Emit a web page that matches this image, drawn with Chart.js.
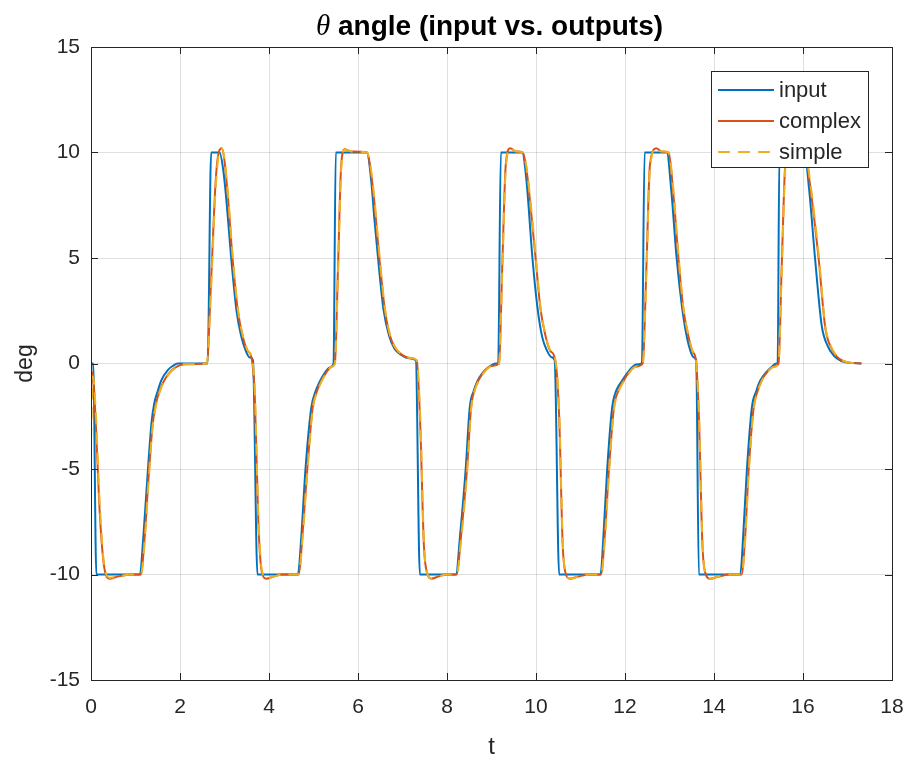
<!DOCTYPE html>
<html>
<head>
<meta charset="utf-8">
<script src="https://cdn.jsdelivr.net/npm/chart.js@4.4.1/dist/chart.umd.min.js"></script>
<style>
  html, body { margin: 0; padding: 0; background: #fff; }
  #wrap { width: 910px; height: 758px; }
</style>
</head>
<body>
<div id="wrap"><canvas id="thetaChart" width="910" height="758"></canvas></div>
<script>
// Zeitachse und Werte (deg)
const inputT = [0, 0.05, 0.12, 1.1, 1.17, 1.28, 1.36, 1.42, 1.5, 1.58, 1.73, 1.85, 1.95, 2.62, 2.7, 2.89, 2.97, 3.04, 3.15, 3.27, 3.38, 3.47, 3.56, 3.64, 3.74,
  4.65, 4.72, 4.82, 4.95, 5.05, 5.13, 5.25, 5.36, 5.45, 5.5, 6.2, 6.3, 6.37, 6.45, 6.57, 6.7, 6.82, 6.98, 7.15, 7.3, 7.39,
  8.2, 8.3, 8.42, 8.51, 8.6, 8.68, 8.8, 8.95, 9.1, 9.15, 9.21, 9.69, 9.78, 9.92, 10.03, 10.14, 10.25, 10.35, 10.42, 10.52,
  11.45, 11.52, 11.6, 11.71, 11.8, 11.94, 12.05, 12.15, 12.25, 12.38, 12.44, 12.94, 13.04, 13.16, 13.28, 13.39, 13.47, 13.54, 13.6, 13.66,
  14.59, 14.66, 14.74, 14.85, 14.95, 15.04, 15.18, 15.3, 15.4, 15.43, 15.47, 16.03, 16.14, 16.27, 16.42, 16.55, 16.7, 16.86, 17.05, 17.3];
const inputV = [0, 0, -10, -10, -8.4, -5, -2.8, -1.9, -1.3, -0.8, -0.3, -0.1, 0, 0, 10, 10, 9.2, 7.8, 5, 2.5, 1.25, 0.65, 0.3, 0.15, -10,
  -10, -8.4, -5, -2.1, -1.3, -0.9, -0.45, -0.2, 0, 10, 10, 8.6, 6.8, 5, 2.6, 1.3, 0.7, 0.4, 0.25, 0.15, -10,
  -10, -8, -5, -2.1, -1.3, -0.85, -0.45, -0.15, 0, 0, 10, 10, 8.8, 5, 2.7, 1.25, 0.6, 0.3, 0.15, -10,
  -10, -8, -5, -2.1, -1.3, -0.8, -0.45, -0.2, -0.05, 0, 10, 10, 8.2, 5, 2.7, 1.25, 0.6, 0.3, 0.15, -10,
  -10, -8, -5, -2.1, -1.3, -0.8, -0.4, -0.15, 0, 0, 10, 10, 8.2, 5, 1.8, 0.85, 0.35, 0.12, 0.03, 0];

const outT = [0, 0.04, 0.1, 0.2, 0.3, 0.42, 0.6, 0.9, 1.12, 1.2, 1.3, 1.38, 1.45, 1.55, 1.66, 1.8, 1.95, 2.1, 2.6, 2.7, 2.8, 2.87, 2.94, 3.0, 3.08, 3.18, 3.3, 3.42, 3.52, 3.61,
  3.68, 3.76, 3.84, 3.94, 4.1, 4.3, 4.67, 4.75, 4.86, 4.98, 5.08, 5.17, 5.28, 5.4, 5.48, 5.55, 5.62, 5.7, 5.85, 6.2, 6.27, 6.36, 6.48, 6.6, 6.72, 6.85, 7.0, 7.18, 7.32,
  7.4, 7.48, 7.55, 7.65, 7.8, 8.0, 8.22, 8.31, 8.45, 8.54, 8.62, 8.72, 8.85, 9.0, 9.17, 9.24, 9.32, 9.42, 9.55, 9.7, 9.78, 9.87, 9.99, 10.1, 10.22, 10.32, 10.43,
  10.52, 10.6, 10.66, 10.76, 10.95, 11.2, 11.46, 11.55, 11.64, 11.75, 11.85, 11.97, 12.1, 12.23, 12.4, 12.48, 12.56, 12.7, 12.82, 12.98, 13.08, 13.2, 13.31, 13.43, 13.52, 13.59,
  13.66, 13.74, 13.8, 13.92, 14.1, 14.35, 14.62, 14.7, 14.78, 14.89, 14.98, 15.07, 15.2, 15.34, 15.45, 15.52, 15.6, 15.68, 15.85, 16.05, 16.15, 16.35, 16.5, 16.62, 16.75, 16.9, 17.1, 17.32];
const complexV = [-1.2, -0.4, -2.5, -7.2, -9.7, -10.2, -10.1, -10, -10, -8.4, -5.2, -3, -2, -1.25, -0.75, -0.35, -0.12, -0.03, 0, 4, 8.6, 10, 10.2, 9.6, 7.8, 5, 2.5, 1.2, 0.6, 0.25,
  -1.5, -7.5, -9.9, -10.2, -10.1, -10, -10, -8.2, -5, -2.1, -1.3, -0.85, -0.45, -0.15, 0, 4.5, 9.3, 10.15, 10.05, 10, 9.4, 7.8, 5, 2.6, 1.3, 0.7, 0.4, 0.25, 0.15,
  -3, -8.6, -9.9, -10.2, -10.1, -10, -10, -8.3, -5, -2.1, -1.25, -0.75, -0.35, -0.12, 0, 4.5, 9.4, 10.2, 10.05, 10, 9.3, 7.6, 5, 2.6, 1.25, 0.6, 0.2,
  -2.5, -8.6, -9.9, -10.2, -10.1, -10, -10, -8, -5, -2.1, -1.3, -0.8, -0.4, -0.15, 0, 4.5, 9.4, 10.2, 10.05, 10, 8.2, 5, 2.6, 1.25, 0.55, 0.2,
  -2.5, -8.6, -9.9, -10.2, -10.1, -10, -10, -8.2, -5, -2.1, -1.3, -0.8, -0.4, -0.15, 0, 4.5, 9.4, 10.15, 10.05, 10, 8.6, 5, 1.7, 0.8, 0.35, 0.12, 0.03, 0];
const simpleV = [-3.6, -0.6, -2, -6.8, -9.6, -10.15, -10.1, -10, -10, -8.6, -5.4, -3.1, -2.1, -1.3, -0.8, -0.38, -0.14, -0.04, 0, 3.6, 8.3, 9.9, 10.2, 9.7, 8, 5.2, 2.6, 1.25, 0.62, 0.27,
  -1.2, -7.2, -9.8, -10.2, -10.1, -10, -10, -8.4, -5.2, -2.2, -1.35, -0.9, -0.48, -0.17, 0, 4.2, 9.1, 10.15, 10.05, 10, 9.5, 8, 5.2, 2.7, 1.35, 0.72, 0.42, 0.26, 0.16,
  -2.6, -8.4, -9.9, -10.2, -10.1, -10, -10, -8.5, -5.2, -2.2, -1.3, -0.8, -0.38, -0.13, 0, 4.2, 9.2, 10.2, 10.05, 10, 9.4, 7.8, 5.2, 2.7, 1.3, 0.62, 0.22,
  -2.2, -8.4, -9.9, -10.2, -10.1, -10, -10, -8.3, -5.2, -2.2, -1.35, -0.85, -0.42, -0.17, 0, 4.2, 9.2, 10.2, 10.05, 10, 8.4, 5.2, 2.7, 1.3, 0.58, 0.22,
  -2.2, -8.4, -9.9, -10.2, -10.1, -10, -10, -8.4, -5.2, -2.2, -1.35, -0.85, -0.42, -0.17, 0, 4.2, 9.2, 10.15, 10.05, 10, 8.8, 5.2, 1.8, 0.85, 0.38, 0.13, 0.03, 0];

const xTicks = [0, 2, 4, 6, 8, 10, 12, 14, 16, 18];
const yTicks = [-15, -10, -5, 0, 5, 10, 15];
const seriesNames = ['input', 'complex', 'simple'];

const FONT = '"Liberation Sans", Arial, Helvetica, sans-serif';
const AXIS_COLOR = '#262626';

function toPoints(ts, vs) {
    return ts.map((t, i) => ({ x: t, y: vs[i] }));
}

// Rahmen, Tickmarken, Legende und Titel im MATLAB-Stil
const matlabDecor = {
    id: 'matlabDecor',
    afterDatasetsDraw(chart) {
        const ctx = chart.ctx;
        const a = chart.chartArea;
        const xs = chart.scales.x, ys = chart.scales.y;
        ctx.save();
        ctx.strokeStyle = AXIS_COLOR;
        ctx.lineWidth = 1;
        ctx.strokeRect(Math.round(a.left) + 0.5, Math.round(a.top) + 0.5,
            Math.round(a.right - a.left), Math.round(a.bottom - a.top));
        const tl = 7;
        ctx.beginPath();
        xTicks.forEach(v => {
            const px = Math.round(xs.getPixelForValue(v)) + 0.5;
            ctx.moveTo(px, a.bottom); ctx.lineTo(px, a.bottom - tl);
            ctx.moveTo(px, a.top); ctx.lineTo(px, a.top + tl);
        });
        yTicks.forEach(v => {
            const py = Math.round(ys.getPixelForValue(v)) + 0.5;
            ctx.moveTo(a.left, py); ctx.lineTo(a.left + tl, py);
            ctx.moveTo(a.right, py); ctx.lineTo(a.right - tl, py);
        });
        ctx.stroke();
        ctx.restore();
    },
    afterDraw(chart) {
        const ctx = chart.ctx;
        const a = chart.chartArea;
        ctx.save();

        // Legende
        const box = { x: 711.5, y: 71.5, w: 157, h: 96 };
        ctx.fillStyle = '#fff';
        ctx.fillRect(box.x, box.y, box.w, box.h);
        ctx.strokeStyle = AXIS_COLOR;
        ctx.lineWidth = 1;
        ctx.strokeRect(box.x, box.y, box.w, box.h);
        ctx.font = '22px ' + FONT;
        ctx.textBaseline = 'middle';
        ctx.textAlign = 'left';
        chart.data.datasets.forEach((ds, i) => {
            const yy = 90 + i * 31;
            ctx.beginPath();
            ctx.strokeStyle = ds.borderColor;
            ctx.lineWidth = ds.borderWidth;
            ctx.setLineDash(ds.borderDash || []);
            ctx.moveTo(718, yy);
            ctx.lineTo(774, yy);
            ctx.stroke();
            ctx.setLineDash([]);
            ctx.fillStyle = AXIS_COLOR;
            ctx.fillText(ds.label, 779, yy + 1);
        });

        // Titel: kursives Theta + fetter Text
        const theta = '\u03b8';
        const rest = ' angle (input vs. outputs)';
        const thFont = 'italic 29px "Liberation Serif", serif';
        const restFont = 'bold 28px ' + FONT;
        ctx.font = thFont;
        const wTh = ctx.measureText(theta).width;
        ctx.font = restFont;
        const wRest = ctx.measureText(rest).width;
        let x0 = (a.left + a.right) / 2 - (wTh + wRest) / 2 - 2;
        ctx.fillStyle = '#000';
        ctx.textBaseline = 'alphabetic';
        ctx.font = thFont;
        ctx.fillText(theta, x0, 35);
        ctx.font = restFont;
        ctx.fillText(rest, x0 + wTh, 35);
        ctx.restore();
    }
};

const ctx = document.getElementById('thetaChart');
new Chart(ctx, {
    type: 'line',
    data: {
        datasets: [{
            label: seriesNames[0],
            data: toPoints(inputT, inputV),
            borderColor: '#0072BD',
            borderWidth: 2,
            order: 2
        }, {
            label: seriesNames[1],
            data: toPoints(outT, complexV),
            borderColor: '#D95319',
            borderWidth: 2,
            order: 1
        }, {
            label: seriesNames[2],
            data: toPoints(outT, simpleV),
            borderColor: '#EDB120',
            borderWidth: 2,
            borderDash: [12, 8],
            order: 0
        }]
    },
    options: {
        responsive: false,
        animation: false,
        events: [],
        elements: {
            point: { radius: 0 },
            line: { cubicInterpolationMode: 'monotone', fill: false }
        },
        layout: { padding: { top: 47, right: 18, left: 0, bottom: 0 } },
        plugins: {
            legend: { display: false },
            tooltip: { enabled: false },
            title: { display: false }
        },
        scales: {
            x: {
                type: 'linear',
                min: 0,
                max: 18,
                afterBuildTicks: s => { s.ticks = xTicks.map(v => ({ value: v })); },
                afterFit: s => { s.height = 78; s.paddingLeft = 0; s.paddingRight = 0; },
                grid: { color: 'rgba(38,38,38,0.15)', lineWidth: 1, drawTicks: false },
                border: { display: false },
                ticks: {
                    padding: 15,
                    color: AXIS_COLOR,
                    maxRotation: 0,
                    font: { family: FONT, size: 21 }
                },
                title: {
                    display: true,
                    text: 't',
                    color: AXIS_COLOR,
                    padding: { top: 0, bottom: -4 },
                    font: { family: FONT, size: 24 }
                }
            },
            y: {
                type: 'linear',
                min: -15,
                max: 15,
                afterBuildTicks: s => { s.ticks = yTicks.map(v => ({ value: v })); },
                afterFit: s => { s.width = 91; },
                grid: { color: 'rgba(38,38,38,0.15)', lineWidth: 1, drawTicks: false },
                border: { display: false },
                ticks: {
                    padding: 11,
                    color: AXIS_COLOR,
                    font: { family: FONT, size: 21 }
                },
                title: {
                    display: true,
                    text: 'deg',
                    color: AXIS_COLOR,
                    padding: { top: 12, bottom: 0 },
                    font: { family: FONT, size: 23 }
                }
            }
        }
    },
    plugins: [matlabDecor]
});
</script>
</body>
</html>
